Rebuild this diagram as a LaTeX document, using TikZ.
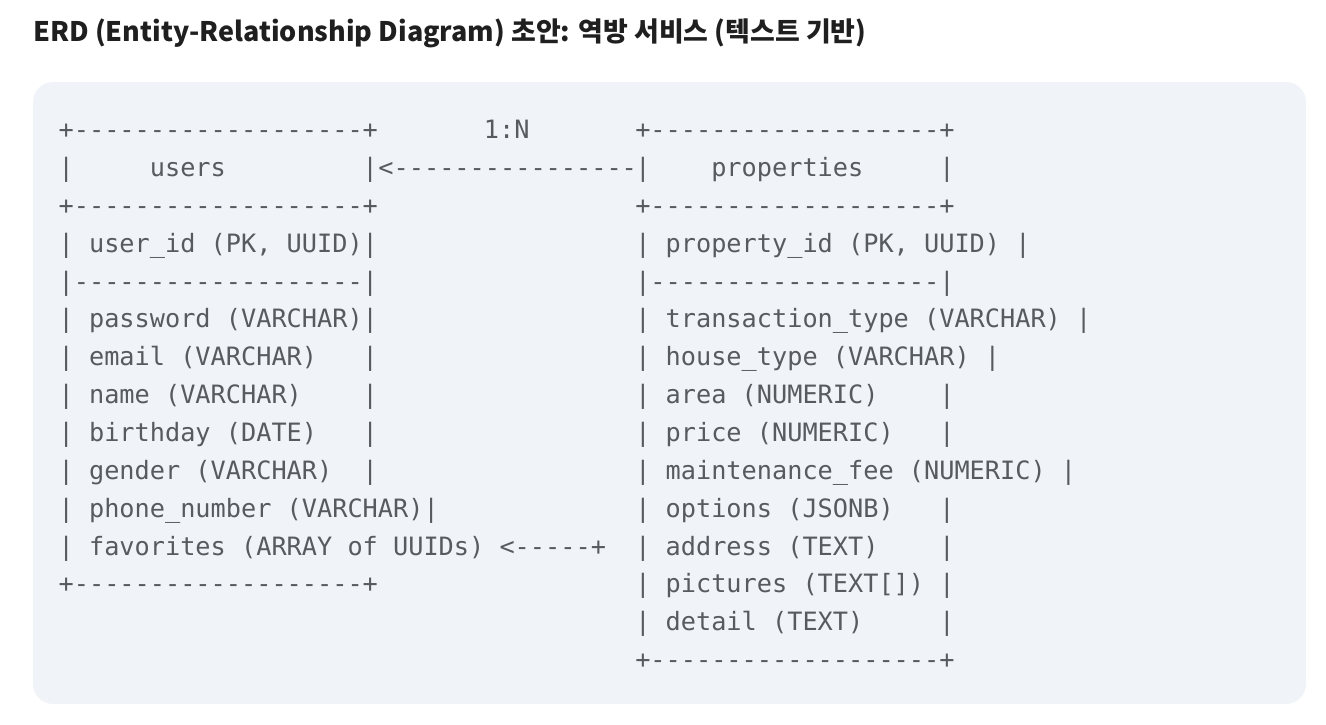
\documentclass[tikz,border=0pt]{standalone}
\usepackage{fontspec}
\setmonofont{DejaVu Sans Mono}
\newfontfamily\titlefont{Noto Sans CJK KR}
\usetikzlibrary{positioning}
\definecolor{codebg}{HTML}{F0F4F9}
\definecolor{codegray}{HTML}{575B5F}
\definecolor{titleblack}{HTML}{1F1F1F}
\tikzset{
    codeline/.style={anchor=base west, inner sep=0pt, text=codegray, font=\ttfamily\fontsize{18.94}{28.4}\selectfont},
    heading/.style={anchor=base west, inner sep=0pt, text=titleblack, font=\titlefont\bfseries\fontsize{20.2}{24}\selectfont},
    codebox/.style={fill=codebg, draw=none, rounded corners=15pt},
}
\begin{document}
\begin{tikzpicture}[x=0.75pt, y=-0.75pt]
    \useasboundingbox (0,0) rectangle (1326,724);
    \node[heading] (title) at (33,41.5) {ERD (Entity-Relationship Diagram) 초안: 역방 서비스 (텍스트 기반)};
    \path[codebox] (33,82) rectangle (1306,704);
    % users table, column 0
    \foreach \txt [count=\i] in {
        {+-------------------+},
        {|~~~~~users~~~~~~~~~|},
        {+-------------------+},
        {|~user\_id~(PK,~UUID)|},
        {|-------------------|},
        {|~password~(VARCHAR)|},
        {|~email~(VARCHAR)~~~|},
        {|~name~(VARCHAR)~~~~|},
        {|~birthday~(DATE)~~~|},
        {|~gender~(VARCHAR)~~|},
        {|~phone\_number~(VARCHAR)|},
        {|~favorites~(ARRAY~of~UUIDs)~<-----+},
        {+-------------------+}}
        \node[codeline] (users\i) at (58.4,{138.6+(\i-1)*37.86}) {\txt};
    % properties table, column 38
    \foreach \txt [count=\i] in {
        {+-------------------+},
        {|~~~~properties~~~~~|},
        {+-------------------+},
        {|~property\_id~(PK,~UUID)~|},
        {|-------------------|},
        {|~transaction\_type~(VARCHAR)~|},
        {|~house\_type~(VARCHAR)~|},
        {|~area~(NUMERIC)~~~~|},
        {|~price~(NUMERIC)~~~|},
        {|~maintenance\_fee~(NUMERIC)~|},
        {|~options~(JSONB)~~~|},
        {|~address~(TEXT)~~~~|},
        {|~pictures~(TEXT[])~|},
        {|~detail~(TEXT)~~~~~|},
        {+-------------------+}}
        \node[codeline] (props\i) at (635,{138.6+(\i-1)*37.86}) {\txt};
    % relation between the two tables
    \node[codeline] (card) at (483.6,138.6) {1:N};
    \node[codeline, right=0pt of users2.base east, anchor=base west] (rel) {<----------------};
\end{tikzpicture}
\end{document}
